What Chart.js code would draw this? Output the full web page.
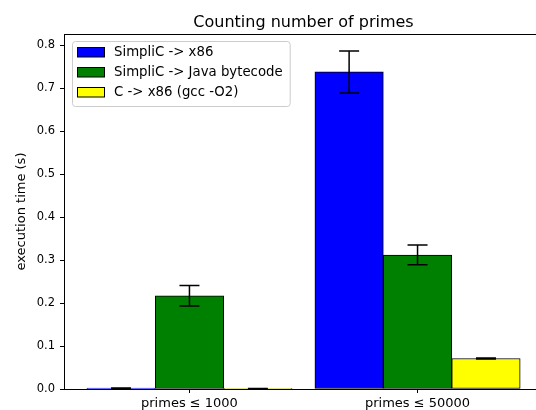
<!DOCTYPE html>
<html>
<head>
<meta charset="utf-8">
<script src="https://cdn.jsdelivr.net/npm/chart.js@4.4.0/dist/chart.umd.min.js"></script>
<style>
  html, body { margin: 0; padding: 0; overflow: hidden; background: #fff; }
  #wrap { width: 536px; height: 410px; overflow: hidden; }
  canvas { display: block; }
</style>
</head>
<body>
<div id="wrap"><canvas id="c" width="546" height="410"></canvas></div>
<script>
// ---- data ----
const categories = ["primes \u2264 1000", "primes \u2264 50000"];
const seriesNames = ["SimpliC -> x86", "SimpliC -> Java bytecode", "C -> x86 (gcc -O2)"];
const simplicX86 = [0.002, 0.738];
const simplicJava = [0.217, 0.312];
const cX86 = [0.001, 0.071];
const simplicX86Err = [0.0003, 0.049];
const simplicJavaErr = [0.024, 0.023];
const cX86Err = [0.0002, 0.001];
const yTicks = [0.0, 0.1, 0.2, 0.3, 0.4, 0.5, 0.6, 0.7, 0.8];

const colors = ["#0000ff", "#008000", "#ffff00"];
const offsets = [-0.3, 0, 0.3];
const seriesValues = [simplicX86, simplicJava, cX86];
const seriesErrors = [simplicX86Err, simplicJavaErr, cX86Err];

const FONT = "'DejaVu Sans', sans-serif";
Chart.defaults.font.family = FONT;
Chart.defaults.color = "#000";

const datasets = seriesValues.map((vals, s) => ({
  label: seriesNames[s],
  data: vals.map((v, i) => ({ x: i + offsets[s], y: v })),
  errors: seriesErrors[s],
  backgroundColor: colors[s],
  borderColor: "#000",
  borderWidth: 1,
  borderSkipped: false,
  grouped: false,
  categoryPercentage: 1.0,
  barPercentage: 1.0
}));

const errorBars = {
  id: "errorBars",
  afterDatasetsDraw(chart) {
    const ctx = chart.ctx;
    const ys = chart.scales.y;
    ctx.save();
    ctx.strokeStyle = "#000";
    ctx.lineWidth = 1.5;
    chart.data.datasets.forEach((ds, di) => {
      const meta = chart.getDatasetMeta(di);
      meta.data.forEach((bar, i) => {
        const v = ds.data[i].y, e = ds.errors[i];
        const x = bar.x;
        const yTop = ys.getPixelForValue(v + e);
        const yBot = ys.getPixelForValue(v - e);
        const cap = 10;
        ctx.beginPath();
        ctx.moveTo(x, yTop); ctx.lineTo(x, yBot);
        ctx.moveTo(x - cap, yTop); ctx.lineTo(x + cap, yTop);
        ctx.moveTo(x - cap, yBot); ctx.lineTo(x + cap, yBot);
        ctx.stroke();
      });
    });
    ctx.restore();
  }
};

const frameAndLegend = {
  id: "frameAndLegend",
  afterDraw(chart) {
    const ctx = chart.ctx;
    const a = chart.chartArea;
    ctx.save();
    ctx.strokeStyle = "#000";
    ctx.lineWidth = 1;
    ctx.beginPath();
    ctx.moveTo(a.left, a.top + 0.5);
    ctx.lineTo(a.right, a.top + 0.5);
    ctx.stroke();

    // legend (upper left)
    ctx.font = "13.3px " + FONT;
    const names = chart.data.datasets.map(d => d.label);
    const maxW = Math.max(...names.map(n => ctx.measureText(n).width));
    const bx = a.left + 8, by = a.top + 7;
    const textX = bx + 42;
    const bw = textX - bx + maxW + 7, bh = 65;
    ctx.beginPath();
    ctx.roundRect(bx + 0.5, by + 0.5, bw, bh, 3);
    ctx.fillStyle = "rgba(255,255,255,0.8)";
    ctx.fill();
    ctx.strokeStyle = "#cccccc";
    ctx.stroke();
    chart.data.datasets.forEach((ds, i) => {
      const cy = by + 11 + i * 20;
      ctx.fillStyle = ds.backgroundColor;
      ctx.fillRect(bx + 5.5, cy - 4.5, 27, 9.5);
      ctx.strokeStyle = "#000";
      ctx.strokeRect(bx + 5.5, cy - 4.5, 27, 9.5);
      ctx.fillStyle = "#000";
      ctx.textBaseline = "middle";
      ctx.textAlign = "left";
      ctx.fillText(ds.label, textX, cy + 0.5);
    });
    ctx.restore();
  }
};

new Chart(document.getElementById("c"), {
  type: "bar",
  data: { datasets },
  plugins: [errorBars, frameAndLegend],
  options: {
    responsive: false,
    animation: false,
    devicePixelRatio: 1,
    layout: { padding: { left: 0, right: 3, top: 0, bottom: 0 } },
    plugins: {
      legend: { display: false },
      tooltip: { enabled: false },
      title: {
        display: true,
        fullSize: false,
        text: "Counting number of primes",
        color: "#000",
        font: { size: 16, weight: "normal", family: FONT, lineHeight: 1.2 },
        padding: { top: 13.2, bottom: 1.6 }
      }
    },
    scales: {
      x: {
        type: "linear",
        min: -0.55,
        max: 1.55,
        offset: false,
        afterBuildTicks(scale) { scale.ticks = categories.map((c, i) => ({ value: i })); },
        afterFit(scale) { scale.height = 21; },
        ticks: {
          callback: (v, i) => categories[i],
          font: { size: 13 },
          color: "#000",
          padding: 2.5,
          maxRotation: 0,
          autoSkip: false
        },
        grid: { offset: false, drawOnChartArea: false, drawTicks: true, tickLength: 4, tickColor: "#000" },
        border: { display: true, color: "#000", width: 1 }
      },
      y: {
        min: 0,
        max: 0.8263,
        afterBuildTicks(scale) { scale.ticks = yTicks.map(v => ({ value: v })); },
        afterFit(scale) { scale.width = 64; },
        ticks: {
          callback: v => Number(v).toFixed(1),
          font: { size: 11.5 },
          color: "#000",
          padding: 5
        },
        grid: { drawOnChartArea: false, drawTicks: true, tickLength: 4, tickColor: "#000" },
        border: { display: true, color: "#000", width: 1 },
        title: {
          display: true,
          text: "execution time (s)",
          color: "#000",
          font: { size: 13, family: FONT },
          padding: { top: 14.2, bottom: 0 }
        }
      }
    }
  }
});
</script>
</body>
</html>
